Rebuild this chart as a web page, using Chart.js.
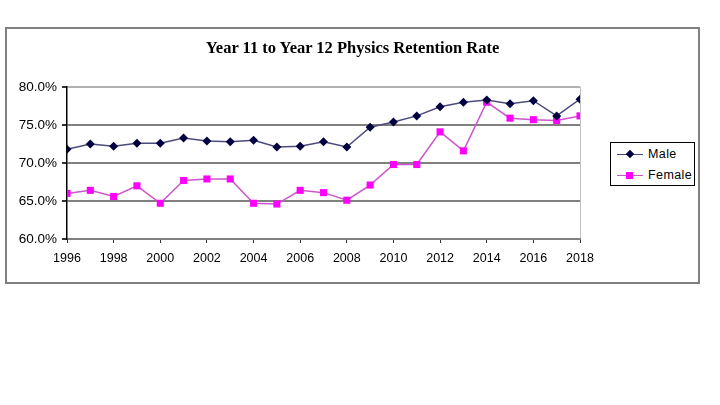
<!DOCTYPE html>
<html>
<head>
<meta charset="utf-8">
<script src="https://cdn.jsdelivr.net/npm/chart.js@4"></script>
<style>
  html, body { margin: 0; padding: 0; background: #fff; }
  body { width: 720px; height: 405px; position: relative; overflow: hidden; font-family: "Liberation Sans", Arial, sans-serif; }
  #frame { position: absolute; left: 5px; top: 27px; width: 691px; height: 253px; border: 2px solid #808080; background: #fff; }
  #wrap { position: absolute; left: 0; top: 0; width: 691px; height: 253px; }
  #title { position: absolute; left: 0; width: 691px; top: 9px; text-align: center; font-family: "Liberation Serif", "Times New Roman", serif; font-weight: bold; font-size: 16.5px; color: #000; }
  #legend { position: absolute; left: 603px; top: 113px; width: 83px; height: 42px; border: 1px solid #000; background: #fff; font-size: 12.5px; color: #000; }
  .item { position: absolute; left: 6px; height: 14px; }
  .ln { position: absolute; left: 0; top: 6px; width: 26px; height: 0; border-top: 1.5px solid; }
  .mk { position: absolute; }
  .lbl { position: absolute; left: 31px; top: -1px; white-space: nowrap; letter-spacing: 0.4px; }
</style>
</head>
<body>
<div id="frame">
  <div id="wrap"><canvas id="c"></canvas></div>
  <div id="title"></div>
  <div id="legend">
    <div class="item" style="top:5px">
      <div class="ln" style="border-color:#4b4b7d"></div>
      <div class="mk" style="left:10px;top:3px;width:6px;height:6px;background:#000040;transform:rotate(45deg)"></div>
      <div class="lbl">Male</div>
    </div>
    <div class="item" style="top:26px">
      <div class="ln" style="border-color:#cc55cc"></div>
      <div class="mk" style="left:9px;top:3px;width:7px;height:7px;background:#ff00ff"></div>
      <div class="lbl">Female</div>
    </div>
  </div>
</div>
<script>
const years = [1996,1997,1998,1999,2000,2001,2002,2003,2004,2005,2006,2007,2008,2009,2010,2011,2012,2013,2014,2015,2016,2017,2018];
const male = [71.8,72.5,72.2,72.6,72.6,73.3,72.9,72.8,73.0,72.1,72.2,72.8,72.1,74.7,75.4,76.2,77.4,78.0,78.3,77.8,78.2,76.2,78.4];
const female = [66.0,66.4,65.6,67.0,64.7,67.7,67.9,67.9,64.7,64.6,66.4,66.1,65.1,67.1,69.8,69.8,74.1,71.6,78.0,75.9,75.7,75.6,76.2];
const yTicks = [60,65,70,75,80];
const chartTitle = 'Year 11 to Year 12 Physics Retention Rate';

document.getElementById('title').textContent = chartTitle;
const toPts = arr => years.map((y, i) => ({ x: y, y: arr[i] }));

new Chart(document.getElementById('c'), {
  type: 'line',
  data: {
    datasets: [
      { label: 'Male', data: toPts(male), borderColor: '#4b4b7d', borderWidth: 1.5,
        pointStyle: 'rectRot', pointRadius: 4.5, pointBackgroundColor: '#000040', pointBorderColor: '#000040', pointBorderWidth: 0, tension: 0 },
      { label: 'Female', data: toPts(female), borderColor: '#cc55cc', borderWidth: 1.5,
        pointStyle: 'rect', pointRadius: 5, pointBackgroundColor: '#ff00ff', pointBorderColor: '#ff00ff', pointBorderWidth: 0, tension: 0 }
    ]
  },
  options: {
    responsive: true,
    maintainAspectRatio: false,
    animation: false,
    layout: { padding: { left: 0, right: 118, top: 58, bottom: 0 } },
    plugins: {
      legend: { display: false },
      tooltip: { enabled: false },
      title: { display: false }
    },
    scales: {
      x: {
        type: 'linear', min: 1996, max: 2018,
        afterBuildTicks: s => { s.ticks = years.filter(y => (y - 1996) % 2 === 0).map(v => ({ value: v })); },
        ticks: { color: '#000', font: { family: '"Liberation Sans", Arial, sans-serif', size: 12.5 }, padding: 8, maxRotation: 0, autoSkip: false,
          callback: v => String(v) },
        grid: { color: ctx => ctx.tick && ctx.tick.value === 2018 ? '#c0c0c0' : 'rgba(0,0,0,0)', tickColor: '#333', tickLength: 4, lineWidth: 1 },
        border: { color: '#808080', width: 2 },
        afterFit: s => { s.height = 43; }
      },
      y: {
        min: 60, max: 80,
        afterBuildTicks: s => { s.ticks = yTicks.map(v => ({ value: v })); },
        ticks: { color: '#000', font: { family: '"Liberation Sans", Arial, sans-serif', size: 13.5 }, padding: 5,
          callback: v => v.toFixed(1) + '%' },
        grid: { color: ctx => ctx.tick && ctx.tick.value === 80 ? '#b0b0b0' : '#808080', lineWidth: 2, tickColor: '#333', tickLength: 5 },
        border: { color: '#000', width: 1.5 },
        afterFit: s => { s.width = 60; }
      }
    }
  }
});
</script>
</body>
</html>
